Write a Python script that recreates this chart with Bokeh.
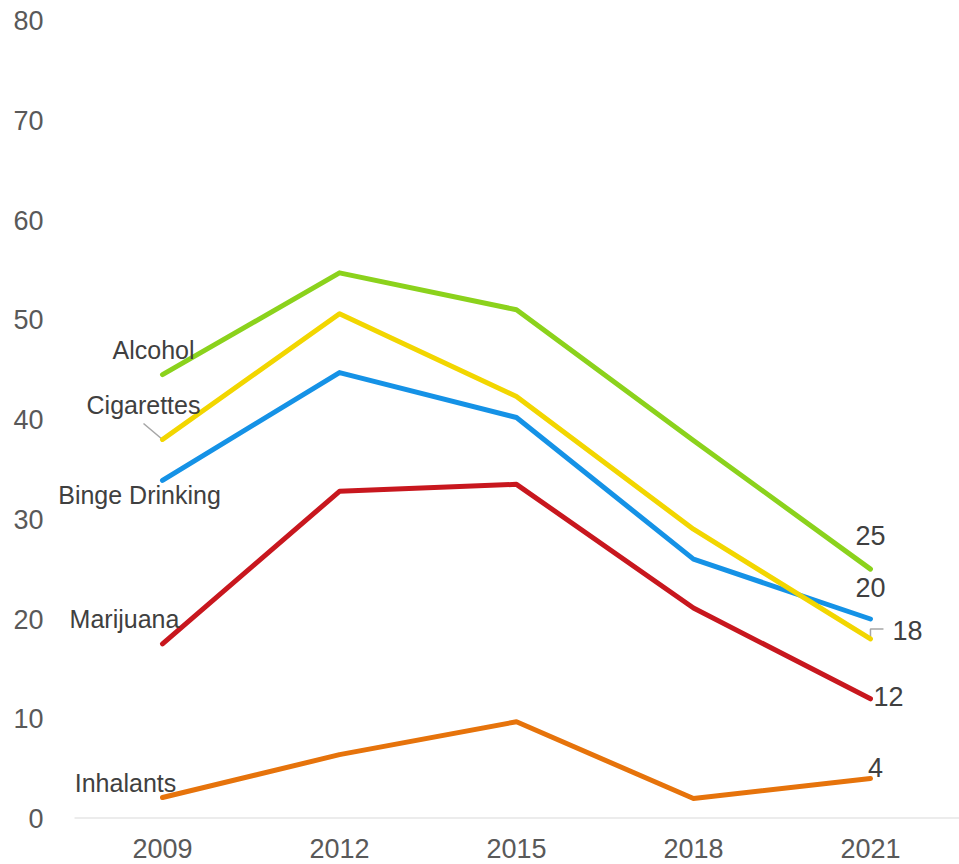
from bokeh.plotting import figure
from bokeh.models import FixedTicker, Range1d, Label
from bokeh.embed import file_html
from bokeh.resources import INLINE

# ---- data ----
years = ["2009", "2012", "2015", "2018", "2021"]
alcohol = [44.5, 54.7, 51.0, 37.9, 25]
cigarettes = [38.0, 50.6, 42.3, 29.0, 18]
binge = [33.9, 44.7, 40.2, 26.0, 20]
marijuana = [17.5, 32.8, 33.5, 21.1, 12]
inhalants = [2.1, 6.4, 9.7, 2.0, 4]
series_names = ["Alcohol", "Cigarettes", "Binge Drinking", "Marijuana", "Inhalants"]
y_ticks = [0, 10, 20, 30, 40, 50, 60, 70, 80]

FONT = "Liberation Sans"
colors = ["#8BD21C", "#F2D600", "#1592E6", "#C8171E", "#E6730B"]
all_series = [alcohol, cigarettes, binge, marijuana, inhalants]

# label offsets (pixels): start names and end values
name_off = [(-9, -25), (-19, -34), (-23, 15), (-38, -25), (-37, -15)]
val_off = [(0, -34), (0, -32), (37, -8), (18, -2), (5, -11)]
val_series = [alcohol, binge, cigarettes, marijuana, inhalants]

xs = list(range(len(years)))

# frame spans from 52px; category band spans from -0.497 to 4.503
FRAME_LEFT = 52
ux = 1 / 177.0
x_start = -(162 - FRAME_LEFT) * ux
band_start, band_end = -0.497, 4.503

p = figure(width=959, height=864, output_backend="svg", toolbar_location=None,
           x_range=Range1d(x_start, band_end), y_range=Range1d(0, 80),
           min_border_left=FRAME_LEFT, min_border_right=0, min_border_top=20,
           min_border_bottom=46)
p.outline_line_color = None
p.xgrid.visible = False
p.ygrid.visible = False
p.background_fill_color = "white"
p.border_fill_color = "white"

# axes
p.yaxis.ticker = FixedTicker(ticks=y_ticks)
p.yaxis.axis_line_color = None
p.yaxis.major_tick_line_color = None
p.yaxis.minor_tick_line_color = None
p.yaxis.major_label_standoff = 3
p.yaxis.major_label_text_font = FONT
p.yaxis.major_label_text_font_size = "27px"
p.yaxis.major_label_text_color = "#595959"

p.xaxis.ticker = FixedTicker(ticks=xs)
p.xaxis.major_label_overrides = {i: y for i, y in enumerate(years)}
p.xaxis.axis_line_color = None
p.xaxis.major_tick_line_color = None
p.xaxis.minor_tick_line_color = None
p.xaxis.major_label_standoff = 14
p.xaxis.major_label_text_font = FONT
p.xaxis.major_label_text_font_size = "27px"
p.xaxis.major_label_text_color = "#595959"

# baseline at zero across the category band
p.segment(x0=[band_start], y0=[0], x1=[band_end], y1=[0],
          line_color="#D9D9D9", line_width=2)

# leader lines
uy = 80 / 798.0
p.segment(x0=[xs[0] - 19 * ux], y0=[cigarettes[0] + 16 * uy],
          x1=[xs[0]], y1=[cigarettes[0]], line_color="#A6A6A6", line_width=1.5)
p.multi_line(xs=[[xs[-1], xs[-1], xs[-1] + 13 * ux]],
             ys=[[cigarettes[-1], cigarettes[-1] + 10 * uy, cigarettes[-1] + 10 * uy]],
             line_color="#A6A6A6", line_width=1.5)

# lines
for vals, c in zip(reversed(all_series), reversed(colors)):
    p.line(xs, vals, line_color=c, line_width=5, line_cap="round", line_join="round")

# start labels
for name, vals, (dx, dy) in zip(series_names, all_series, name_off):
    p.add_layout(Label(x=xs[0], y=vals[0], text=name, x_offset=dx, y_offset=-dy,
                       text_align="center", text_baseline="middle",
                       text_font=FONT, text_font_size="25px", text_color="#404040"))

# end value labels
for vals, (dx, dy) in zip(val_series, val_off):
    p.add_layout(Label(x=xs[-1], y=vals[-1], text="%g" % vals[-1], x_offset=dx, y_offset=-dy,
                       text_align="center", text_baseline="middle",
                       text_font=FONT, text_font_size="27px", text_color="#404040"))

open("out.html", "w").write(file_html(p, INLINE))
